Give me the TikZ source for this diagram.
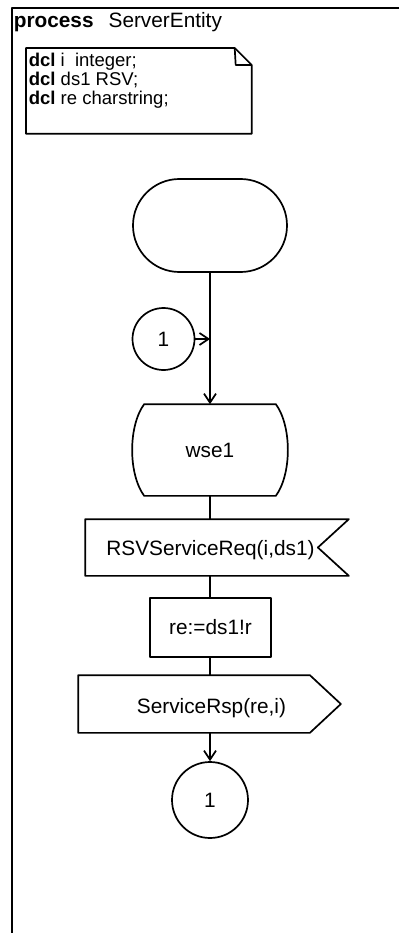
\documentclass[tikz,border=0pt]{standalone}
\usepackage{fontspec}
\setmainfont{Liberation Sans}
\usetikzlibrary{arrows.meta,calc}
\begin{document}
\begin{tikzpicture}[x=1pt,y=-1pt,line width=1.7pt,line join=round,
  arr/.style={-{Straight Barb[length=9pt,width=12pt,line width=1.7pt]}},
  symfont/.style={font=\fontsize{20.8}{24}\selectfont},
  dclfont/.style={font=\fontsize{18.5}{21}\selectfont,anchor=base west,inner sep=0pt},
  shapebox/.style={inner sep=0pt,draw=none}]
\useasboundingbox (0,0) rectangle (399,933);
% frame
\draw (399,8) -- (12,8) -- (12,933);
\node[anchor=base west,inner sep=0pt,symfont] (title) at (13,28) {\textbf{process}\hspace{15pt}ServerEntity};
% declaration text symbol
\node[shapebox,minimum width=224,minimum height=84,anchor=north west] (dcl) at (26,48) {};
\draw (dcl.north west) -- ([xshift=-17pt]dcl.north east) -- ([yshift=-17pt]dcl.north east)
  -- (dcl.south east) -- (dcl.south west) -- cycle;
\draw ([xshift=-17pt]dcl.north east) -- ([xshift=-16pt,yshift=-17pt]dcl.north east) -- ([yshift=-17pt]dcl.north east);
\node[dclfont] (d1) at (28,67) {\textbf{dcl} i~~integer;};
\node[dclfont] (d2) at (28,86) {\textbf{dcl} ds1 RSV;};
\node[dclfont] (d3) at (28,104.5) {\textbf{dcl} re charstring;};
% start
\node[draw,rectangle,rounded corners=46.4pt,minimum width=154,minimum height=93,inner sep=0pt] (start) at (210,225.5) {};
% connector in
\node[draw,circle,minimum size=62,inner sep=0pt,symfont] (c1) at (163.5,339) {1};
% state
\node[shapebox,minimum width=130,minimum height=90,symfont] (state) at (210,450) {wse1};
\draw (state.north west) -- (state.north east)
  .. controls +(16,22) and +(16,-22) .. (state.south east)
  -- (state.south west)
  .. controls +(-16,-22) and +(-16,22) .. (state.north west) -- cycle;
% input
\node[shapebox,minimum width=262,minimum height=55] (inp) at (217,547.5) {};
\draw (inp.north west) -- (inp.north east) -- ([xshift=-31pt]inp.east) -- (inp.south east) -- (inp.south west) -- cycle;
\node[symfont,anchor=base,inner sep=0pt] (inplabel) at (210.5,555) {RSVServiceReq(i,ds1)};
% task
\node[draw,rectangle,minimum width=121,minimum height=59,inner sep=0pt,symfont] (task) at (210.5,627.5) {re:=ds1!r};
% output
\node[shapebox,minimum width=261,minimum height=56] (out) at (209.5,704) {};
\draw (out.north west) -- ([xshift=-31pt]out.north east) -- (out.east) -- ([xshift=-31pt]out.south east) -- (out.south west) -- cycle;
\node[symfont,anchor=base,inner sep=0pt] (outlabel) at (211.5,713) {ServiceRsp(re,i)};
% connector out
\node[draw,circle,minimum size=76,inner sep=0pt,symfont] (c2) at (210,800) {1};
% flow lines
\draw[arr] (start.south) -- (state.north);
\draw[arr] (c1.east) -- (c1.east -| start.south);
\draw (state.south) -- (state.south |- inp.north);
\draw (state.south |- inp.south) -- (state.south |- task.north);
\draw (state.south |- task.south) -- (state.south |- out.north);
\draw[arr] (state.south |- out.south) -- (c2.north);
\end{tikzpicture}
\end{document}
